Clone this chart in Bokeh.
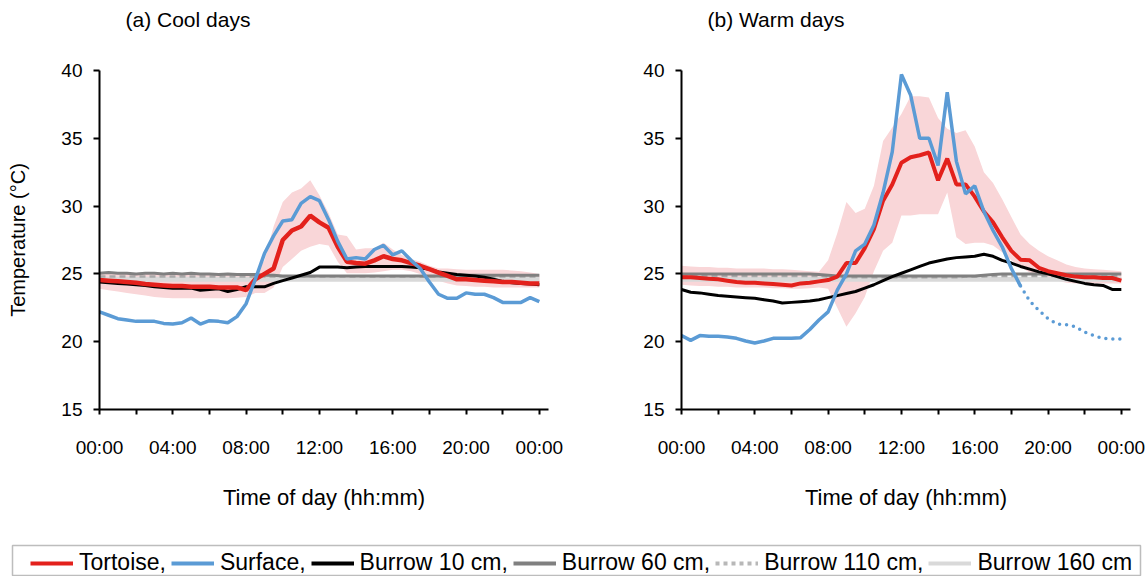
from bokeh.plotting import figure
from bokeh.models import Range1d, FixedTicker, CustomJSTickFormatter, Legend, LegendItem, Title
from bokeh.layouts import column, row
from bokeh.embed import file_html
from bokeh.resources import INLINE

# ---------------- data (time of day in hours, 30-min steps) ----------------
hours = [0, 0.5, 1, 1.5, 2, 2.5, 3, 3.5, 4, 4.5, 5, 5.5, 6, 6.5, 7, 7.5,
         8, 8.5, 9, 9.5, 10, 10.5, 11, 11.5, 12, 12.5, 13, 13.5, 14, 14.5, 15, 15.5,
         16, 16.5, 17, 17.5, 18, 18.5, 19, 19.5, 20, 20.5, 21, 21.5, 22, 22.5, 23, 23.5, 24]

x_ticks = [0, 2, 4, 6, 8, 10, 12, 14, 16, 18, 20, 22, 24]
y_ticks = [15, 20, 25, 30, 35, 40]

# (a) Cool days
cool_tortoise = [24.55, 24.5, 24.45, 24.4, 24.35, 24.25, 24.2, 24.15, 24.1, 24.1, 24.05, 24.05, 24.05, 24.0, 24.0, 24.0,
                 23.8, 24.6, 25.0, 25.4, 27.5, 28.2, 28.5, 29.3, 28.8, 28.4, 27.0, 25.9, 25.8, 25.75, 26.0, 26.3,
                 26.1, 26.0, 25.8, 25.6, 25.35, 25.1, 24.85, 24.6, 24.6, 24.55, 24.5, 24.45, 24.4, 24.4, 24.35, 24.3, 24.3]
cool_tortoise_hi = [25.1, 25.1, 25.05, 25.05, 25.0, 25.0, 25.0, 25.0, 25.0, 25.0, 25.0, 25.0, 25.0, 25.0, 25.0, 25.0,
                    24.95, 25.0, 26.0, 28.5, 30.3, 31.0, 31.3, 31.9, 30.8, 29.5, 27.9, 27.8, 26.8, 26.9, 26.9, 27.3,
                    26.8, 26.4, 26.1, 25.9, 25.6, 25.4, 25.4, 25.35, 25.3, 25.3, 25.3, 25.3, 25.3, 25.25, 25.2, 25.1, 25.0]
cool_tortoise_lo = [23.9, 23.8, 23.7, 23.6, 23.5, 23.4, 23.3, 23.25, 23.2, 23.2, 23.2, 23.2, 23.2, 23.2, 23.2, 23.25,
                    23.3, 23.6, 23.6, 24.0, 25.5, 26.1, 26.7, 27.0, 27.2, 27.1, 25.9, 25.05, 25.05, 25.05, 25.1, 25.2,
                    25.3, 25.3, 25.2, 25.0, 24.8, 24.5, 24.3, 24.15, 24.1, 24.05, 24.05, 24.0, 24.0, 24.0, 24.0, 24.0, 24.0]
cool_surface = [22.2, 21.95, 21.7, 21.6, 21.5, 21.5, 21.5, 21.35, 21.3, 21.4, 21.75, 21.3, 21.55, 21.5, 21.4, 21.85,
                22.8, 24.6, 26.5, 27.8, 28.9, 29.0, 30.2, 30.7, 30.4, 29.0, 27.4, 26.1, 26.2, 26.1, 26.8, 27.1,
                26.4, 26.7, 26.0, 25.4, 24.4, 23.5, 23.2, 23.2, 23.6, 23.5, 23.5, 23.25, 22.9, 22.9, 22.9, 23.25, 22.95]
cool_b10 = [24.4, 24.35, 24.3, 24.25, 24.2, 24.15, 24.05, 24.0, 23.95, 23.95, 23.95, 23.8, 23.85, 23.9, 23.7, 23.85,
            24.05, 24.05, 24.05, 24.3, 24.5, 24.7, 24.9, 25.1, 25.5, 25.5, 25.5, 25.45, 25.5, 25.55, 25.55, 25.55,
            25.55, 25.55, 25.5, 25.45, 25.35, 25.15, 25.05, 24.95, 24.9, 24.85, 24.75, 24.6, 24.45, 24.35, 24.3, 24.25, 24.2]
cool_b60 = [25.05, 25.1, 25.05, 25.05, 25.0, 25.05, 25.05, 25.0, 25.05, 25.0, 25.05, 25.0, 25.0, 24.95, 25.0, 24.95,
            24.95, 24.95, 24.9, 24.9, 24.85, 24.85, 24.85, 24.85, 24.85, 24.85, 24.85, 24.85, 24.85, 24.85, 24.85, 24.85,
            24.85, 24.85, 24.85, 24.85, 24.85, 24.85, 24.85, 24.9, 24.9, 24.9, 24.9, 24.9, 24.9, 24.9, 24.9, 24.9, 24.9]
cool_b110 = [24.8, 24.8, 24.8, 24.8, 24.8, 24.8, 24.8, 24.8, 24.8, 24.8, 24.8, 24.8, 24.8, 24.8, 24.8, 24.8,
             24.8, 24.8, 24.8, 24.8, 24.8, 24.8, 24.8, 24.8, 24.8, 24.8, 24.8, 24.8, 24.8, 24.8, 24.8, 24.8,
             24.8, 24.8, 24.8, 24.8, 24.8, 24.8, 24.8, 24.8, 24.8, 24.8, 24.8, 24.8, 24.8, 24.8, 24.8, 24.8, 24.8]
cool_b160 = [24.6, 24.6, 24.6, 24.6, 24.6, 24.6, 24.6, 24.6, 24.6, 24.6, 24.6, 24.6, 24.6, 24.6, 24.6, 24.6,
             24.6, 24.6, 24.6, 24.6, 24.6, 24.6, 24.6, 24.6, 24.6, 24.6, 24.6, 24.6, 24.6, 24.6, 24.6, 24.6,
             24.6, 24.6, 24.6, 24.6, 24.6, 24.6, 24.6, 24.6, 24.6, 24.6, 24.6, 24.6, 24.6, 24.6, 24.6, 24.6, 24.6]

# (b) Warm days
warm_tortoise = [24.75, 24.75, 24.7, 24.65, 24.6, 24.5, 24.4, 24.35, 24.35, 24.3, 24.25, 24.2, 24.15, 24.3, 24.35, 24.45,
                 24.55, 24.8, 25.8, 25.8, 26.9, 28.3, 30.4, 31.6, 33.2, 33.6, 33.75, 33.95, 31.9, 33.5, 31.6, 31.6,
                 30.7, 29.6, 28.8, 27.7, 26.7, 26.05, 26.0, 25.45, 25.2, 25.05, 24.9, 24.8, 24.75, 24.75, 24.7, 24.7, 24.5]
warm_tortoise_hi = [25.6, 25.55, 25.5, 25.5, 25.45, 25.45, 25.4, 25.4, 25.4, 25.4, 25.35, 25.35, 25.3, 25.25, 25.2, 25.15,
                    26.0, 28.0, 30.3, 29.5, 29.8, 31.5, 34.8, 35.8, 36.8, 38.1, 38.1, 38.0, 36.5, 35.7, 35.4, 35.6,
                    34.4, 32.5, 31.7, 30.5, 29.2, 27.9, 27.2, 26.7, 26.3, 26.0, 25.7, 25.5, 25.4, 25.35, 25.3, 25.25, 25.2]
warm_tortoise_lo = [24.2, 24.15, 24.1, 24.1, 24.05, 24.05, 24.0, 24.0, 24.0, 24.0, 23.95, 23.95, 23.9, 23.9, 23.95, 24.0,
                    23.9, 22.5, 21.1, 22.1, 23.3, 25.2, 26.7, 27.3, 29.3, 29.3, 29.4, 29.4, 29.4, 31.0, 27.7, 27.2,
                    27.3, 27.3, 27.1, 26.6, 26.0, 25.5, 25.1, 24.9, 24.7, 24.5, 24.35, 24.3, 24.3, 24.3, 24.3, 24.3, 24.3]
warm_surface = [20.45, 20.1, 20.45, 20.4, 20.4, 20.35, 20.25, 20.05, 19.9, 20.05, 20.25, 20.25, 20.25, 20.3, 20.9, 21.6,
                22.2, 23.8, 25.0, 26.7, 27.2, 28.6, 31.0, 34.0, 39.7, 38.2, 35.0, 35.0, 33.0, 38.4, 33.3, 30.9,
                31.5, 29.6, 28.2, 27.0, 25.4, 24.1, 23.0, 22.3, 21.7, 21.3, 21.25, 21.1, 20.7, 20.45, 20.25, 20.2, 20.2]
warm_surface_last_logged = 37   # index of 18:30; later values drawn dotted
warm_b10 = [23.85, 23.65, 23.6, 23.5, 23.4, 23.35, 23.3, 23.25, 23.2, 23.1, 23.0, 22.85, 22.9, 22.95, 23.0, 23.1,
            23.25, 23.4, 23.55, 23.7, 23.95, 24.2, 24.5, 24.8, 25.05, 25.3, 25.55, 25.8, 25.95, 26.1, 26.2, 26.25,
            26.3, 26.45, 26.3, 26.0, 25.8, 25.55, 25.35, 25.15, 25.0, 24.8, 24.6, 24.45, 24.3, 24.2, 24.15, 23.85, 23.85]
warm_b60 = [25.0, 25.0, 25.0, 25.0, 25.0, 25.0, 25.0, 25.0, 25.0, 25.0, 25.0, 25.0, 25.0, 25.0, 25.0, 24.95,
            24.9, 24.85, 24.85, 24.85, 24.85, 24.85, 24.85, 24.85, 24.85, 24.85, 24.85, 24.85, 24.85, 24.85, 24.85, 24.85,
            24.85, 24.9, 24.95, 25.0, 25.0, 25.0, 25.0, 25.0, 25.0, 25.0, 25.0, 25.0, 25.0, 25.0, 25.0, 25.0, 25.0]
warm_b110 = [24.85, 24.85, 24.85, 24.85, 24.85, 24.85, 24.85, 24.85, 24.85, 24.85, 24.85, 24.85, 24.85, 24.85, 24.85, 24.85,
             24.8, 24.8, 24.75, 24.75, 24.75, 24.75, 24.75, 24.75, 24.75, 24.75, 24.75, 24.75, 24.75, 24.75, 24.75, 24.8,
             24.8, 24.8, 24.85, 24.85, 24.85, 24.85, 24.85, 24.85, 24.85, 24.85, 24.85, 24.85, 24.85, 24.85, 24.85, 24.85, 24.85]
warm_b160 = [24.6, 24.6, 24.6, 24.6, 24.6, 24.6, 24.6, 24.6, 24.6, 24.6, 24.6, 24.6, 24.6, 24.6, 24.6, 24.6,
             24.6, 24.6, 24.6, 24.6, 24.6, 24.6, 24.6, 24.6, 24.6, 24.6, 24.6, 24.6, 24.6, 24.6, 24.6, 24.6,
             24.6, 24.6, 24.6, 24.6, 24.6, 24.6, 24.6, 24.6, 24.6, 24.6, 24.6, 24.6, 24.6, 24.6, 24.6, 24.6, 24.6]

legend_labels = ["Tortoise,", "Surface,", "Burrow 10 cm,", "Burrow 60 cm,", "Burrow 110 cm,", "Burrow 160 cm"]

# ---------------- styles ----------------
FONT = "Liberation Sans"
RED = "#e3211c"
BLUE = "#5b9bd5"
BLACK = "#000000"
G60 = "#808080"
G110 = "#a9a9a9"
G160 = "#d9d9d9"
BAND = "#f9d6d8"

FMT = """
const h = Math.round(tick);
if (h % 4 !== 0) { return ''; }
const hh = h % 24;
return (hh < 10 ? '0' + hh : String(hh)) + ':00';
"""


def make_panel(width, border_left, border_right, title, ylabel, tort, hi, lo, surf, b10, b60, b110, b160,
               red_width, surf_cut=None):
    p = figure(width=width, height=535, x_range=Range1d(0, 24.5), y_range=Range1d(15, 40),
               output_backend="svg", toolbar_location=None,
               min_border_left=border_left, min_border_right=border_right,
               min_border_top=70, min_border_bottom=126)
    p.outline_line_color = None
    p.xgrid.visible = False
    p.ygrid.visible = False
    p.background_fill_color = "white"
    p.border_fill_color = "white"

    # a blank second line lifts the panel title away from the plot frame
    p.title = Title(text=title + "\n\u00a0", align="left", offset=26, text_font=FONT,
                    text_font_size="21px", text_font_style="normal", text_color="#000000",
                    text_line_height=1.5)

    p.varea(x=hours, y1=lo, y2=hi, fill_color=BAND, fill_alpha=1.0)
    p.line(hours, b160, line_color=G160, line_width=5)
    p.line(hours, b110, line_color=G110, line_width=2.5, line_dash="6 4")
    p.line(hours, b60, line_color=G60, line_width=3)
    p.line(hours, b10, line_color=BLACK, line_width=3)
    p.line(hours, tort, line_color=RED, line_width=red_width)
    if surf_cut is None:
        p.line(hours, surf, line_color=BLUE, line_width=3.5)
    else:
        p.line(hours[:surf_cut + 1], surf[:surf_cut + 1], line_color=BLUE, line_width=3.5)
        p.line(hours[surf_cut:], surf[surf_cut:], line_color=BLUE, line_width=3.5,
               line_dash="0 7", line_cap="round")

    xa = p.xaxis[0]
    xa.ticker = FixedTicker(ticks=x_ticks)
    xa.formatter = CustomJSTickFormatter(code=FMT)
    xa.axis_label = "Time of day (hh:mm)"
    xa.axis_label_text_font = FONT
    xa.axis_label_text_font_size = "22px"
    xa.axis_label_text_font_style = "normal"
    xa.axis_label_text_color = "#000000"
    xa.axis_label_standoff = 24
    xa.major_label_standoff = 22
    xa.major_tick_out = 5

    ya = p.yaxis[0]
    ya.ticker = FixedTicker(ticks=y_ticks)
    ya.major_label_standoff = 11
    ya.major_tick_out = 6
    if ylabel:
        ya.axis_label = ylabel
        ya.axis_label_text_font = FONT
        ya.axis_label_text_font_size = "20px"
        ya.axis_label_text_font_style = "normal"
        ya.axis_label_text_color = "#000000"
        ya.axis_label_standoff = 29

    for ax in (xa, ya):
        ax.axis_line_color = "#000000"
        ax.axis_line_width = 2
        ax.major_tick_line_color = "#000000"
        ax.major_tick_line_width = 2
        ax.major_tick_in = 0
        ax.minor_tick_line_color = None
        ax.major_label_text_font = FONT
        ax.major_label_text_font_size = "19px"
        ax.major_label_text_color = "#000000"
    return p


p1 = make_panel(580, 99, 32, "(a) Cool days", "Temperature (°C)",
                cool_tortoise, cool_tortoise_hi, cool_tortoise_lo, cool_surface,
                cool_b10, cool_b60, cool_b110, cool_b160, red_width=4.5)
p2 = make_panel(568, 101, 18, "(b) Warm days", None,
                warm_tortoise, warm_tortoise_hi, warm_tortoise_lo, warm_surface,
                warm_b10, warm_b60, warm_b110, warm_b160, red_width=4,
                surf_cut=warm_surface_last_logged)

# ---------------- legend strip ----------------
pl = figure(width=1148, height=41, x_range=Range1d(0, 1), y_range=Range1d(0, 1),
            output_backend="svg", toolbar_location=None,
            x_axis_location=None, y_axis_location=None,
            min_border_left=12, min_border_right=8, min_border_top=10, min_border_bottom=0)
pl.xgrid.visible = False
pl.ygrid.visible = False
pl.outline_line_color = "#bdbdbd"
pl.outline_line_width = 1.5

# legend-only renderers: their data lie outside the strip's visible range
off_x = [5, 6]
off_y = [5, 5]
r_t = pl.line(x=off_x, y=off_y, line_color=RED, line_width=4)
r_s = pl.line(x=off_x, y=off_y, line_color=BLUE, line_width=4)
r_10 = pl.line(x=off_x, y=off_y, line_color=BLACK, line_width=4)
r_60 = pl.line(x=off_x, y=off_y, line_color=G60, line_width=4)
r_110 = pl.line(x=off_x, y=off_y, line_color="#b8b8b8", line_width=4, line_dash="4 4")
r_160 = pl.line(x=off_x, y=off_y, line_color=G160, line_width=4)
rs = [r_t, r_s, r_10, r_60, r_110, r_160]

legend = Legend(items=[LegendItem(label=lab, renderers=[r]) for lab, r in zip(legend_labels, rs)],
                orientation="horizontal", location=(18, 0),
                border_line_color=None, background_fill_alpha=0.0,
                padding=0, spacing=5, label_standoff=6, margin=0,
                glyph_width=43, glyph_height=20, label_height=20,
                label_text_font=FONT, label_text_font_size="23px", label_text_color="#000000")
pl.add_layout(legend)

layout = column(row(p1, p2), pl)

with open("out.html", "w") as f:
    f.write(file_html(layout, INLINE))
